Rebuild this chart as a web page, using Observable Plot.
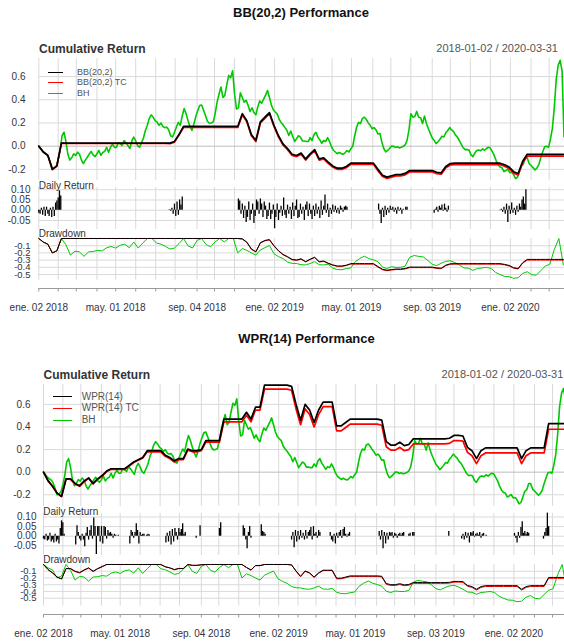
<!DOCTYPE html>
<html>
<head>
<meta charset="utf-8">
<script src="https://cdn.jsdelivr.net/npm/d3@7"></script>
<script src="https://cdn.jsdelivr.net/npm/@observablehq/plot@0.6"></script>
<style>
html, body { margin: 0; padding: 0; background: #ffffff; overflow: hidden; }
#root { position: relative; width: 564px; height: 641px; overflow: hidden; background: #ffffff; font-family: "Liberation Sans", Arial, sans-serif; }
#root .t { position: absolute; white-space: nowrap; line-height: 1; }
#root .lg { position: absolute; height: 1px; }
</style>
</head>
<body>
<div id="root"></div>
<script>
// ---------------- DATA ----------------
const WEEK_START = "2018-01-02";
const DATE_END = "2020-03-31";

const monthTicks = ["2018-01-02","2018-02-01","2018-03-01","2018-04-02","2018-05-01","2018-06-01","2018-07-02","2018-08-01","2018-09-04","2018-10-01","2018-11-01","2018-12-03","2019-01-02","2019-02-01","2019-03-01","2019-04-01","2019-05-01","2019-06-03","2019-07-01","2019-08-01","2019-09-03","2019-10-01","2019-11-01","2019-12-02","2020-01-02","2020-02-03","2020-03-02"];
const xLabelDates = ["2018-01-02","2018-05-01","2018-09-04","2019-01-02","2019-05-01","2019-09-03","2020-01-02"];
const xLabels = ["ene. 02 2018","may. 01 2018","sep. 04 2018","ene. 02 2019","may. 01 2019","sep. 03 2019","ene. 02 2020"];
const cumTicks = [-0.2, 0, 0.2, 0.4, 0.6];
const retTicks = [-0.05, 0, 0.05, 0.1];
const ddTicks = [-0.5, -0.4, -0.3, -0.2, -0.1];

// Buy & hold cumulative return, one value every 3 calendar days from 2018-01-02 (shared by both charts)
const bhCum = [
  0, -0.02, -0.045, -0.058, -0.07, -0.095, -0.145, -0.2, -0.19, -0.177,
  -0.113, -0.03, 0.09, 0.12, 0.04, -0.07, -0.12, -0.1, -0.066, -0.08,
  -0.052, -0.07, -0.12, -0.15, -0.12, -0.095, -0.07, -0.045, -0.075, -0.09,
  -0.066, -0.037, -0.078, -0.055, -0.045, -0.01, -0.052, -0.009, 0.018, -0.01,
  -0.01, 0.03, 0.02, 0.006, 0.049, 0.03, 0.005, -0.02, 0.045, 0.078,
  0.045, 0.005, -0.01, 0.03, 0.07, 0.135, 0.18, 0.24, 0.27, 0.25,
  0.221, 0.207, 0.18, 0.2, 0.17, 0.16, 0.164, 0.141, 0.09, 0.08,
  0.12, 0.165, 0.205, 0.18, 0.26, 0.325, 0.28, 0.22, 0.17, 0.135,
  0.19, 0.255, 0.305, 0.35, 0.355, 0.31, 0.264, 0.215, 0.197, 0.2,
  0.21, 0.28, 0.38, 0.45, 0.51, 0.42, 0.44, 0.53, 0.61, 0.59,
  0.65, 0.45, 0.32, 0.33, 0.46, 0.42, 0.38, 0.395, 0.35, 0.3,
  0.33, 0.29, 0.27, 0.34, 0.39, 0.37, 0.405, 0.44, 0.48, 0.42,
  0.355, 0.315, 0.295, 0.279, 0.232, 0.205, 0.185, 0.16, 0.137, 0.092,
  0.13, 0.085, 0.04, 0.065, 0.09, 0.078, 0.045, 0.045, 0.04, 0.04,
  0.073, 0.049, 0.1, 0.12, 0.078, 0.054, 0.025, 0.049, 0.04, 0.073,
  0.04, -0.005, -0.035, -0.05, -0.065, -0.054, -0.063, -0.07, -0.057, -0.038,
  -0.05, -0.023, 0, 0.09, 0.165, 0.205, 0.195, 0.24, 0.25, 0.23,
  0.2, 0.18, 0.15, 0.16, 0.14, 0.105, 0.11, 0.035, -0.02, -0.05,
  -0.037, -0.02, 0.002, 0, -0.012, -0.005, -0.015, -0.009, -0.002, 0.01,
  0.05, 0.14, 0.28, 0.25, 0.255, 0.3, 0.25, 0.245, 0.195, 0.26,
  0.195, 0.15, 0.11, 0.07, 0.05, 0.022, 0.038, 0.06, 0.085, 0.08,
  0.115, 0.135, 0.16, 0.14, 0.125, 0.095, 0.078, 0.049, 0.015, -0.014,
  -0.03, -0.028, -0.035, -0.075, -0.09, -0.058, -0.037, -0.034, -0.04, -0.023,
  -0.035, -0.02, -0.009, -0.017, -0.048, -0.08, -0.126, -0.16, -0.18, -0.187,
  -0.22, -0.21, -0.198, -0.228, -0.225, -0.245, -0.28, -0.268, -0.22, -0.17,
  -0.155, -0.1, -0.1, -0.15, -0.167, -0.185, -0.205, -0.19, -0.16, -0.1,
  -0.05, -0.005, 0, -0.01, 0.06, 0.155, 0.336, 0.58, 0.7, 0.74,
  0.65, 0.08, 0.08, 0.08
];
// Buy & hold drawdown, weekly from 2018-01-02
const bhDD = [
  0, -0.05, -0.08, -0.2, -0.17, 0, -0.088, -0.23, -0.177, -0.186,
  -0.248, -0.186, -0.181, -0.164, -0.173, -0.128, -0.111, -0.133, -0.093, -0.08,
  -0.128, -0.049, -0.133, -0.062, 0, 0, -0.062, -0.078, -0.109, -0.147,
  -0.132, -0.07, 0, -0.102, -0.132, -0.027, 0, -0.085, -0.114, -0.046,
  0, -0.047, 0, 0, -0.2, -0.139, -0.164, -0.2, -0.23, -0.158,
  -0.127, -0.097, -0.212, -0.251, -0.279, -0.327, -0.345, -0.347, -0.364, -0.367,
  -0.347, -0.321, -0.364, -0.367, -0.356, -0.412, -0.43, -0.434, -0.418, -0.408,
  -0.321, -0.277, -0.245, -0.279, -0.297, -0.321, -0.397, -0.416, -0.392, -0.401,
  -0.4, -0.385, -0.261, -0.236, -0.248, -0.255, -0.303, -0.358, -0.376, -0.342,
  -0.318, -0.309, -0.333, -0.367, -0.408, -0.412, -0.442, -0.416, -0.409, -0.4,
  -0.415, -0.47, -0.501, -0.527, -0.53, -0.552, -0.545, -0.485, -0.461, -0.503,
  -0.509, -0.446, -0.382, -0.358, -0.152, 0, -0.368
];

// BB(20,2), weekly from 2018-01-02
const bbCum = [
  0, -0.05, -0.08, -0.2, -0.17, 0.026, 0.026, 0.026, 0.026, 0.026,
  0.026, 0.026, 0.026, 0.026, 0.026, 0.026, 0.026, 0.026, 0.026, 0.026,
  0.026, 0.026, 0.026, 0.026, 0.026, 0.026, 0.026, 0.026, 0.026, 0.026,
  0.04, 0.1, 0.17, 0.17, 0.17, 0.17, 0.17, 0.17, 0.17, 0.17,
  0.17, 0.17, 0.17, 0.17, 0.17, 0.28, 0.22, 0.1, 0.05, 0.21,
  0.25, 0.29, 0.18, 0.09, 0.02, -0.02, -0.07, -0.08, -0.06, -0.11,
  -0.066, -0.03, -0.11, -0.1, -0.138, -0.17, -0.19, -0.19, -0.175, -0.147,
  -0.147, -0.147, -0.147, -0.147, -0.147, -0.2, -0.25, -0.267, -0.255, -0.245,
  -0.245, -0.235, -0.21, -0.21, -0.21, -0.21, -0.21, -0.21, -0.225, -0.23,
  -0.175, -0.15, -0.147, -0.147, -0.147, -0.147, -0.147, -0.147, -0.147, -0.147,
  -0.147, -0.147, -0.147, -0.16, -0.18, -0.22, -0.235, -0.13, -0.07, -0.07,
  -0.07, -0.07, -0.07, -0.07, -0.07, -0.07, -0.07
];
const bbTC = [
  0, -0.05, -0.08, -0.2, -0.17, 0.024, 0.023, 0.023, 0.023, 0.023,
  0.023, 0.023, 0.023, 0.023, 0.023, 0.023, 0.023, 0.023, 0.023, 0.023,
  0.023, 0.023, 0.023, 0.023, 0.023, 0.023, 0.023, 0.023, 0.023, 0.021,
  0.035, 0.095, 0.161, 0.161, 0.161, 0.161, 0.161, 0.161, 0.161, 0.161,
  0.161, 0.161, 0.161, 0.161, 0.161, 0.27, 0.21, 0.09, 0.04, 0.2,
  0.24, 0.28, 0.17, 0.08, 0.01, -0.03, -0.08, -0.09, -0.07, -0.12,
  -0.076, -0.04, -0.12, -0.11, -0.148, -0.18, -0.2, -0.2, -0.185, -0.157,
  -0.157, -0.157, -0.157, -0.157, -0.157, -0.212, -0.262, -0.279, -0.267, -0.257,
  -0.257, -0.247, -0.222, -0.222, -0.222, -0.222, -0.222, -0.222, -0.237, -0.242,
  -0.187, -0.162, -0.159, -0.159, -0.159, -0.159, -0.159, -0.159, -0.159, -0.159,
  -0.159, -0.159, -0.159, -0.173, -0.193, -0.233, -0.248, -0.143, -0.086, -0.086,
  -0.086, -0.086, -0.086, -0.086, -0.086, -0.086, -0.086
];
const bbDD = [
  0, -0.05, -0.08, -0.2, -0.17, 0, 0, 0, 0, 0,
  0, 0, 0, 0, 0, 0, 0, 0, 0, 0,
  0, 0, 0, 0, 0, 0, 0, 0, 0, 0,
  0, 0, 0, 0, 0, 0, 0, 0, 0, 0,
  0, 0, 0, 0, 0, -0.004, -0.05, -0.144, -0.183, -0.058,
  -0.027, -0.015, -0.099, -0.168, -0.221, -0.252, -0.29, -0.298, -0.282, -0.321,
  -0.287, -0.26, -0.321, -0.313, -0.342, -0.366, -0.382, -0.382, -0.37, -0.349,
  -0.349, -0.349, -0.349, -0.349, -0.349, -0.389, -0.427, -0.44, -0.431, -0.424,
  -0.424, -0.416, -0.397, -0.397, -0.397, -0.397, -0.397, -0.397, -0.408, -0.412,
  -0.37, -0.351, -0.349, -0.349, -0.349, -0.349, -0.349, -0.349, -0.349, -0.349,
  -0.349, -0.349, -0.349, -0.359, -0.374, -0.405, -0.416, -0.336, -0.29, -0.29,
  -0.29, -0.29, -0.29, -0.29, -0.29, -0.29, -0.29
];
const bbTCDD = [
  0, -0.05, -0.08, -0.2, -0.17, 0, 0, 0, 0, 0,
  0, 0, 0, 0, 0, 0, 0, 0, 0, 0,
  0, 0, 0, 0, 0, 0, 0, 0, 0, 0,
  0, 0, 0, 0, 0, 0, 0, 0, 0, 0,
  0, 0, 0, 0, 0, -0.009, -0.055, -0.149, -0.188, -0.063,
  -0.032, -0.02, -0.104, -0.173, -0.226, -0.257, -0.295, -0.303, -0.287, -0.326,
  -0.292, -0.265, -0.326, -0.318, -0.347, -0.371, -0.387, -0.387, -0.375, -0.354,
  -0.356, -0.356, -0.356, -0.356, -0.356, -0.396, -0.434, -0.447, -0.438, -0.431,
  -0.431, -0.423, -0.404, -0.404, -0.404, -0.404, -0.404, -0.404, -0.415, -0.419,
  -0.377, -0.358, -0.356, -0.356, -0.356, -0.356, -0.356, -0.356, -0.356, -0.356,
  -0.356, -0.356, -0.356, -0.366, -0.381, -0.412, -0.423, -0.343, -0.3, -0.3,
  -0.3, -0.3, -0.3, -0.3, -0.3, -0.3, -0.3
];
// daily returns: [first date, values every 2 calendar days]
const bbDaily = [
  ["2018-01-02", [-0.015, -0.02, 0.01, -0.025, 0.015, -0.03, 0.015, -0.02, -0.03, 0.01, -0.035, 0.015, -0.03, 0.035, 0.045, 0.06, 0.095, 0.07]],
  ["2018-07-23", [0.002, -0.005, 0.01, -0.02, 0.03, -0.03, 0.04, -0.025, 0.05, 0.025, 0.065]],
  ["2018-11-07", [0.055, 0.045, -0.02, 0.03, -0.04, 0.02, -0.06, -0.035, 0.04, -0.05,
                  -0.02, 0.03, -0.065, -0.03, 0.05, 0.04, -0.02, 0.055, 0.03, -0.035,
                  0.04, 0.02, -0.045, -0.03, 0.035, -0.045, -0.02, 0.025, -0.09, -0.035,
                  0.03, -0.05, -0.015, 0.02, -0.03, 0.06, -0.025, -0.04, 0.025, -0.02,
                  0.015, -0.045, 0.035, -0.03, 0.02, 0.05, -0.04, -0.035, 0.03, -0.02,
                  0.015, -0.05, 0.025, 0.04, -0.03, 0.03, -0.02, -0.045, 0.02, -0.03,
                  0.03, -0.02, 0.015, -0.04, 0.045, -0.025, 0.02, 0.075, -0.015, 0.03,
                  -0.035, 0.01, -0.02, 0.025, -0.01, 0.02, -0.015, 0.01, -0.02, 0.02,
                  0.01, -0.01, 0.015, 0.02, 0.015]],
  ["2019-06-12", [0.03, -0.02, -0.065, 0.01, -0.035, 0.02, -0.025, 0.01, -0.015, 0.02, 0.005, 0.015, -0.01, 0.01, -0.02, 0.015, -0.005, 0.01, -0.02, 0.005, 0, 0.015, 0.015]],
  ["2019-09-06", [-0.015, 0.005, 0.015, -0.01, 0.02, 0.01, 0.025, -0.005, 0.03, 0.01, -0.01, 0.02]],
  ["2019-12-17", [-0.003, 0.005, -0.01, 0.015, -0.02, 0.03, -0.06, 0.02, -0.02, 0.035, -0.015, 0.01, -0.025, 0.02, -0.01, 0.03, 0.015, 0.05, 0.065, 0.03, 0.1]]
];

// WPR(14), weekly from 2018-01-02
const wprCum = [
  0, -0.075, -0.125, -0.185, -0.215, -0.06, -0.06, -0.1, -0.12, -0.08,
  -0.05, -0.1, -0.06, -0.03, 0.01, 0.03, 0.03, 0.03, 0.03, 0.06,
  0.09, 0.11, 0.13, 0.19, 0.19, 0.19, 0.19, 0.15, 0.13, 0.1,
  0.12, 0.12, 0.205, 0.19, 0.19, 0.2, 0.28, 0.28, 0.28, 0.28,
  0.47, 0.47, 0.47, 0.47, 0.47, 0.53, 0.47, 0.575, 0.575, 0.77,
  0.77, 0.77, 0.77, 0.77, 0.77, 0.76, 0.6, 0.46, 0.6, 0.55,
  0.44, 0.55, 0.62, 0.62, 0.62, 0.41, 0.41, 0.44, 0.47, 0.47,
  0.47, 0.47, 0.47, 0.47, 0.47, 0.46, 0.27, 0.24, 0.24, 0.265,
  0.235, 0.245, 0.295, 0.295, 0.295, 0.295, 0.295, 0.295, 0.295, 0.295,
  0.3, 0.325, 0.325, 0.32, 0.22, 0.19, 0.12, 0.19, 0.215, 0.215,
  0.215, 0.215, 0.215, 0.215, 0.215, 0.215, 0.12, 0.19, 0.215, 0.215,
  0.215, 0.215, 0.43, 0.43, 0.43, 0.43, 0.43
];
const wprTC = [
  0, -0.075, -0.125, -0.185, -0.215, -0.06, -0.065, -0.105, -0.125, -0.085,
  -0.055, -0.105, -0.065, -0.035, 0.005, 0.025, 0.025, 0.025, 0.025, 0.055,
  0.085, 0.105, 0.125, 0.18, 0.18, 0.18, 0.18, 0.14, 0.12, 0.09,
  0.11, 0.11, 0.195, 0.18, 0.18, 0.19, 0.265, 0.265, 0.265, 0.265,
  0.445, 0.445, 0.445, 0.445, 0.445, 0.505, 0.445, 0.55, 0.55, 0.735,
  0.735, 0.735, 0.735, 0.735, 0.735, 0.725, 0.56, 0.42, 0.56, 0.51,
  0.4, 0.51, 0.58, 0.58, 0.58, 0.365, 0.365, 0.395, 0.425, 0.425,
  0.425, 0.425, 0.425, 0.425, 0.425, 0.415, 0.225, 0.195, 0.195, 0.22,
  0.19, 0.2, 0.25, 0.25, 0.25, 0.25, 0.25, 0.25, 0.25, 0.25,
  0.255, 0.28, 0.28, 0.275, 0.175, 0.145, 0.075, 0.145, 0.17, 0.17,
  0.17, 0.17, 0.17, 0.17, 0.17, 0.17, 0.075, 0.145, 0.17, 0.17,
  0.17, 0.17, 0.38, 0.38, 0.38, 0.38, 0.38
];
const wprDD = [
  0, -0.075, -0.125, -0.185, -0.215, -0.06, -0.06, -0.1, -0.12, -0.08,
  -0.05, -0.1, -0.06, -0.03, 0, 0, 0, 0, 0, 0,
  0, 0, 0, 0, 0, 0, 0, -0.034, -0.05, -0.076,
  -0.06, -0.06, 0, -0.012, -0.012, -0.004, 0, 0, 0, 0,
  0, 0, 0, 0, 0, -0.044, -0.08, -0.016, -0.016, 0,
  0, 0, 0, 0, 0, -0.006, -0.096, -0.175, -0.096, -0.124,
  -0.186, -0.124, -0.085, -0.085, -0.085, -0.203, -0.203, -0.186, -0.169, -0.169,
  -0.169, -0.169, -0.169, -0.169, -0.169, -0.175, -0.282, -0.299, -0.299, -0.285,
  -0.302, -0.296, -0.268, -0.268, -0.268, -0.268, -0.268, -0.268, -0.268, -0.268,
  -0.265, -0.251, -0.251, -0.254, -0.311, -0.328, -0.367, -0.328, -0.314, -0.314,
  -0.314, -0.314, -0.314, -0.314, -0.314, -0.314, -0.367, -0.328, -0.314, -0.314,
  -0.314, -0.314, -0.192, -0.192, -0.192, -0.192, -0.192
];
const wprTCDD = [
  0, -0.075, -0.125, -0.185, -0.215, -0.06, -0.065, -0.105, -0.125, -0.085,
  -0.055, -0.105, -0.065, -0.035, 0, 0, 0, 0, 0, 0,
  0, 0, 0, 0, 0, 0, 0, -0.034, -0.051, -0.076,
  -0.059, -0.059, 0, -0.013, -0.013, -0.004, 0, 0, 0, 0,
  0, 0, 0, 0, 0, -0.045, -0.085, -0.016, -0.016, 0,
  0, 0, 0, 0, 0, -0.006, -0.101, -0.182, -0.101, -0.13,
  -0.193, -0.13, -0.089, -0.089, -0.089, -0.213, -0.213, -0.196, -0.179, -0.179,
  -0.179, -0.179, -0.179, -0.179, -0.179, -0.184, -0.294, -0.311, -0.311, -0.297,
  -0.315, -0.308, -0.28, -0.28, -0.28, -0.28, -0.28, -0.28, -0.28, -0.28,
  -0.277, -0.262, -0.262, -0.265, -0.323, -0.34, -0.38, -0.34, -0.326, -0.326,
  -0.326, -0.326, -0.326, -0.326, -0.326, -0.326, -0.38, -0.34, -0.326, -0.326,
  -0.326, -0.326, -0.205, -0.205, -0.205, -0.205, -0.205
];
const wprDaily = [
  ["2018-01-02", [-0.015, -0.02, 0.01, -0.025, -0.02, 0.015, -0.03, -0.02, -0.035, 0.01, -0.03, -0.02, -0.04, 0.04, 0.08, 0.07, 0.01]],
  ["2018-02-21", [-0.045, 0.055, 0.02, -0.015, -0.025, 0.01, -0.02, -0.055, 0.015, 0.045, -0.02, 0.03, 0.055, -0.015, 0.095, 0.05, -0.095, 0.05, 0.05, -0.03, 0.05, -0.04, 0.05, 0.045, -0.015, 0.03, 0.015, 0.02, 0.01, -0.01, 0.01, 0.005, 0, 0.005]],
  ["2018-05-16", [-0.04, 0.03, 0.02, -0.01, 0.02, 0.065, 0.03, -0.04, 0.02, 0.005, 0.01, 0.01, 0, 0.005, 0.01, 0.008]],
  ["2018-07-11", [-0.035, 0.015, -0.03, 0.025, -0.045, 0.035, -0.03, 0.04, 0.02, -0.02, 0.04, 0.02, 0.035, 0.065, 0.01, 0.02]],
  ["2018-08-27", [-0.01, 0, 0, 0.055]],
  ["2018-10-02", [0.04, 0.07]],
  ["2018-11-08", [0.055, 0.04, -0.02, -0.065, 0.02, 0.05, -0.01, 0, 0, 0, 0, 0, 0, 0, 0.06, 0.025, 0.02, 0.01]],
  ["2019-01-22", [-0.02, 0.02, -0.06, 0.03, -0.03, 0.025, -0.02, 0.03, -0.01, 0.015, -0.02, 0.03, -0.015, 0.02, 0.03, 0.045, -0.02, 0.05, 0.01, 0.02, -0.01, 0.03, 0.02]],
  ["2019-03-23", [0.02, -0.02, -0.03, 0.01, -0.04, 0.015, -0.01, 0.02, 0.03, -0.01, 0.035, 0.045, 0.01, -0.005, 0.01, 0.02]],
  ["2019-06-07", [0.025, -0.02, 0.03, -0.065, 0.02, -0.04, 0.015, -0.02, 0.02, 0.015, 0.02, -0.01, 0.015, 0.01, -0.01, 0.01, 0.015, 0.005, 0.015, 0.02, 0, 0, 0, 0.01, 0.015, 0, 0.02, 0.02]],
  ["2019-09-23", [0.025]],
  ["2019-10-13", [-0.015, 0.01, -0.02, 0.02, -0.01, 0.015, -0.035, 0.02, 0.015, 0.025, -0.005, 0.01, 0.015, 0.005, 0.02, -0.01, 0.01, 0.015, 0, 0.005]],
  ["2020-01-03", [0.015, -0.01, -0.035, 0.02, -0.01, 0.045, 0.075, 0.015, 0.025, 0.01, 0.02, 0.015]],
  ["2020-02-17", [-0.015, 0.02, 0.04, 0.12, 0.05]]
];

// ---------------- STYLE ----------------
const C_STRAT = "#000000", C_TC = "#ff0000", C_BH = "#00c800";
const GRID = "#dadada", ZERO = "#bdbdbd", AXIS = "#9a9a9a", TICK_TXT = "#333340";
const FONT = "'Liberation Sans', Arial, Helvetica, sans-serif";

// ---------------- RENDER ----------------
const root = document.getElementById("root");
const parse = s => new Date(s + "T00:00:00Z");
const t0 = parse(WEEK_START), t1 = parse(DATE_END);
const series = (arr, step) => arr.map((v, i) => ({date: d3.utcDay.offset(t0, step * i), v}));
const expand = segs => segs.flatMap(([s, vals]) => vals.map((v, i) => ({date: d3.utcDay.offset(parse(s), 2 * i), v})));
const months = monthTicks.map(parse);

function addText(txt, x, baseline, o = {}) {
  const size = o.size || 10;
  const d = document.createElement("div");
  d.className = "t";
  d.textContent = txt;
  d.style.fontSize = size + "px";
  d.style.fontWeight = o.bold ? "bold" : "normal";
  d.style.color = o.color || "#333";
  d.style.left = x + "px";
  d.style.top = (baseline - 0.847 * size) + "px";
  if (o.anchor === "end") d.style.transform = "translateX(-100%)";
  if (o.anchor === "middle") d.style.transform = "translateX(-50%)";
  root.appendChild(d);
}
function addLegendLine(x1, x2, y, color) {
  const d = document.createElement("div");
  d.className = "lg";
  d.style.left = Math.round(x1) + "px";
  d.style.width = Math.round(x2 - x1) + "px";
  d.style.top = Math.round(y - 0.5) + "px";
  d.style.background = color;
  root.appendChild(d);
}
function panel(g, top, bottom, yDomain, marks, padBottom = 12) {
  const pad = 12;
  const svg = Plot.plot({
    width: g.width,
    height: bottom - top + pad + padBottom,
    marginTop: pad, marginBottom: padBottom,
    marginLeft: g.left, marginRight: g.width - g.right,
    x: {type: "utc", domain: [t0, t1], axis: null},
    y: {domain: yDomain, axis: null},
    style: {background: "transparent", fontFamily: FONT},
    marks
  });
  svg.style.position = "absolute";
  svg.style.left = "0px";
  svg.style.top = (top - pad) + "px";
  svg.style.maxWidth = "none";
  svg.style.background = "transparent";
  svg.style.overflow = "visible";
  root.appendChild(svg);
}
const yLabels = (ticks, fmt, g, right, size = 10) =>
  Plot.text(ticks, {y: d => d, text: d => d.toFixed(fmt), frameAnchor: "left", dx: right - g.left, textAnchor: "end", fontSize: size, fill: TICK_TXT});

const halves = [
  {oy: 0, width: 568, left: 38.3, right: 567.4, title: "BB(20,2) Performance", titleX: 301,
   names: ["BB(20,2)", "BB(20,2) TC", "BH"], strat: bbCum, tc: bbTC, daily: bbDaily, dd: bbDD, tcdd: bbTCDD,
   cumDomain: [-0.296, 0.756], retDomain: [-0.094, 0.111], ddDomain: [-0.58, 0],
   labR: [25, 30, 30], labX: 39, rangeRight: 558,
   legend: {x1: 48, x2: 63, tx: 77, ys: [72, 82.7, 93.3], size: 9}},
  {oy: 326, width: 571, left: 43, right: 570.7, title: "WPR(14) Performance", titleX: 306.5,
   names: ["WPR(14)", "WPR(14) TC", "BH"], strat: wprCum, tc: wprTC, daily: wprDaily, dd: wprDD, tcdd: wprTCDD,
   cumDomain: [-0.304, 0.776], retDomain: [-0.1, 0.118], ddDomain: [-0.62, 0],
   labR: [30, 36, 36], labX: 43.5, rangeRight: 563.3,
   legend: {x1: 53, x2: 72, tx: 81.7, ys: [396.7, 408.3, 420], size: 10}}
];

for (const g of halves) {
  const oy = g.oy;
  // cumulative return
  panel(g, 58 + oy, 180 + oy, g.cumDomain, [
    Plot.ruleX(months, {stroke: GRID}),
    Plot.ruleY(cumTicks.filter(d => d !== 0), {stroke: GRID}),
    Plot.ruleY([0], {stroke: ZERO}),
    yLabels(cumTicks, 1, g, g.labR[0]),
    Plot.line(series(bhCum, 3), {x: "date", y: "v", stroke: C_BH, strokeWidth: 1.6}),
    Plot.line(series(g.tc, 7), {x: "date", y: "v", stroke: C_TC, strokeWidth: 1.7}),
    Plot.line(series(g.strat, 7), {x: "date", y: "v", stroke: C_STRAT, strokeWidth: 1.7})
  ]);
  // daily return
  panel(g, 187 + oy, 229 + oy, g.retDomain, [
    Plot.ruleX(months, {stroke: GRID}),
    Plot.ruleY(retTicks, {stroke: GRID}),
    yLabels(retTicks, 2, g, g.labR[1]),
    Plot.ruleX(expand(g.daily), {x: "date", y1: 0, y2: "v", stroke: C_STRAT, strokeWidth: 1.3})
  ]);
  // drawdown
  panel(g, 237.5 + oy, 279.3 + oy, g.ddDomain, [
    Plot.ruleX(months, {stroke: GRID}),
    Plot.ruleY(ddTicks, {stroke: GRID}),
    yLabels(ddTicks, 1, g, g.labR[2], 9.5),
    Plot.line(series(bhDD, 7), {x: "date", y: "v", stroke: C_BH, strokeWidth: 1}),
    Plot.line(series(g.tcdd, 7), {x: "date", y: "v", stroke: C_TC, strokeWidth: 1}),
    Plot.line(series(g.dd, 7), {x: "date", y: "v", stroke: C_STRAT, strokeWidth: 1})
  ]);
  // x axis
  panel(g, 288 + oy, 291.5 + oy, [0, 1], [
    Plot.ruleY([1], {stroke: AXIS}),
    Plot.ruleX(months, {y1: 1, y2: 0, stroke: AXIS}),
    Plot.text(xLabelDates, {x: d => parse(d), y: 0, dy: 16, text: (d, i) => xLabels[i], fontSize: 10, fill: TICK_TXT})
  ], 30);

  // texts
  addText(g.title, g.titleX, 17.5 + oy, {size: 13, bold: true, anchor: "middle", color: "#111"});
  addText("Cumulative Return", g.labX, 52.7 + oy, {size: 12, bold: true, color: "#333"});
  addText("2018-01-02 / 2020-03-31", g.rangeRight, 52.7 + oy, {size: 11, anchor: "end", color: "#555"});
  addText("Daily Return", g.labX - 0.3, 189.5 + oy, {size: 10, color: "#333"});
  addText("Drawdown", g.labX - 0.3, 237.8 + oy, {size: 10, color: "#333"});
  const L = g.legend, cols = [C_STRAT, C_TC, C_BH];
  g.names.forEach((nm, i) => {
    addLegendLine(L.x1, L.x2, L.ys[i], cols[i]);
    addText(nm, L.tx, L.ys[i] + 0.35 * L.size, {size: L.size, color: "#555"});
  });
}
</script>
</body>
</html>
